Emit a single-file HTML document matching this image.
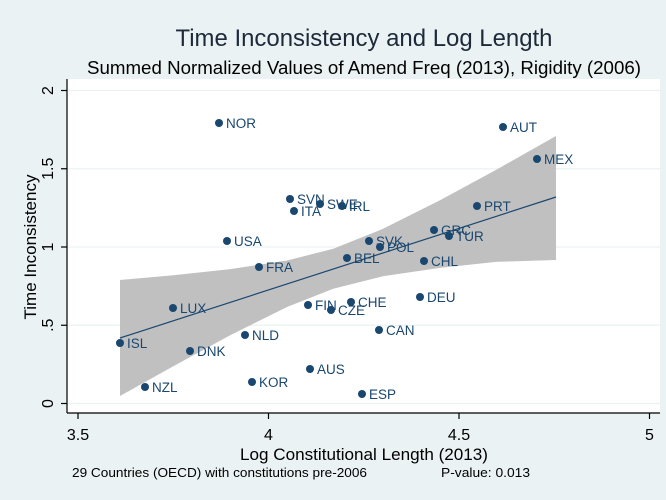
<!DOCTYPE html>
<html><head><meta charset="utf-8"><style>
html,body{margin:0;padding:0;background:#eaf2f3;}
svg{display:block;font-family:"Liberation Sans",sans-serif;}
</style></head><body>
<svg width="666" height="500" viewBox="0 0 666 500" xmlns="http://www.w3.org/2000/svg">
<rect x="0" y="0" width="666" height="500" fill="#eaf2f3"/>
<rect x="67" y="79" width="593" height="334" fill="#ffffff"/>
<g stroke="#eaf2f3" stroke-width="1.2">
<line x1="67" y1="90.5" x2="660" y2="90.5"/>
<line x1="67" y1="168.75" x2="660" y2="168.75"/>
<line x1="67" y1="247" x2="660" y2="247"/>
<line x1="67" y1="325.25" x2="660" y2="325.25"/>
<line x1="67" y1="403.5" x2="660" y2="403.5"/>
</g>
<polygon fill="#c0c0c0" points="120,280 173.3,275.2 230.4,269.1 287.6,260.4 333.3,248.7 382.8,228.9 440,200.3 497.2,169.2 556,136 556,260 497.2,261.8 440,267.9 382.8,276.3 333.3,288.7 287.6,306.8 230.4,335.1 173.3,366.2 120,396"/>
<line x1="120" y1="338" x2="556" y2="197" stroke="#1a476f" stroke-width="1.2"/>
<g stroke="#000" stroke-width="1.2">
<line x1="67" y1="79" x2="67" y2="413"/>
<line x1="67" y1="413" x2="660" y2="413"/>
<line x1="61" y1="90.5" x2="67" y2="90.5"/>
<line x1="61" y1="168.75" x2="67" y2="168.75"/>
<line x1="61" y1="247" x2="67" y2="247"/>
<line x1="61" y1="325.25" x2="67" y2="325.25"/>
<line x1="61" y1="403.5" x2="67" y2="403.5"/>
<line x1="78" y1="413" x2="78" y2="419"/>
<line x1="268.5" y1="413" x2="268.5" y2="419"/>
<line x1="459" y1="413" x2="459" y2="419"/>
<line x1="649.5" y1="413" x2="649.5" y2="419"/>
</g>
<g font-size="16" fill="#000" text-anchor="middle">
<text transform="translate(53,90.5) rotate(-90)">2</text>
<text transform="translate(53,168.75) rotate(-90)">1.5</text>
<text transform="translate(53,247) rotate(-90)">1</text>
<text transform="translate(53,325.25) rotate(-90)">.5</text>
<text transform="translate(53,403.5) rotate(-90)">0</text>
<text x="78" y="440">3.5</text>
<text x="268.5" y="440">4</text>
<text x="459" y="440">4.5</text>
<text x="649.5" y="440">5</text>
<text transform="translate(36,247) rotate(-90)" font-size="16.5" textLength="145" lengthAdjust="spacingAndGlyphs">Time Inconsistency</text>
<text x="364" y="460" font-size="17" textLength="248" lengthAdjust="spacingAndGlyphs">Log Constitutional Length (2013)</text>
<text x="364" y="46" font-size="24" fill="#1e2a3a" textLength="377" lengthAdjust="spacingAndGlyphs">Time Inconsistency and Log Length</text>
<text x="364" y="74" font-size="18" textLength="554" lengthAdjust="spacingAndGlyphs">Summed Normalized Values of Amend Freq (2013), Rigidity (2006)</text>
</g>
<text x="72" y="477" font-size="13" textLength="295" lengthAdjust="spacingAndGlyphs">29 Countries (OECD) with constitutions pre-2006</text>
<text x="441" y="477" font-size="13" textLength="89" lengthAdjust="spacingAndGlyphs">P-value: 0.013</text>
<g fill="#1a476f" font-size="13.5">
<circle cx="219" cy="123" r="4"/><text x="226" y="128">NOR</text>
<circle cx="503" cy="127" r="4"/><text x="510" y="132">AUT</text>
<circle cx="537" cy="159" r="4"/><text x="544" y="164">MEX</text>
<circle cx="290" cy="199" r="4"/><text x="297" y="204">SVN</text>
<circle cx="320" cy="204" r="4"/><text x="327" y="209">SWE</text>
<circle cx="342" cy="206" r="4"/><text x="349" y="211">IRL</text>
<circle cx="294" cy="211" r="4"/><text x="301" y="216">ITA</text>
<circle cx="477" cy="206" r="4"/><text x="484" y="211">PRT</text>
<circle cx="434" cy="230" r="4"/><text x="441" y="235">GRC</text>
<circle cx="449" cy="236" r="4"/><text x="456" y="241">TUR</text>
<circle cx="227" cy="241" r="4"/><text x="234" y="246">USA</text>
<circle cx="369" cy="241" r="4"/><text x="376" y="246">SVK</text>
<circle cx="380" cy="247" r="4"/><text x="387" y="252">POL</text>
<circle cx="347" cy="258" r="4"/><text x="354" y="263">BEL</text>
<circle cx="424" cy="261" r="4"/><text x="431" y="266">CHL</text>
<circle cx="259" cy="267" r="4"/><text x="266" y="272">FRA</text>
<circle cx="420" cy="297" r="4"/><text x="427" y="302">DEU</text>
<circle cx="351" cy="302" r="4"/><text x="358" y="307">CHE</text>
<circle cx="308" cy="305" r="4"/><text x="315" y="310">FIN</text>
<circle cx="173" cy="308" r="4"/><text x="180" y="313">LUX</text>
<circle cx="331" cy="310" r="4"/><text x="338" y="315">CZE</text>
<circle cx="379" cy="330" r="4"/><text x="386" y="335">CAN</text>
<circle cx="245" cy="335" r="4"/><text x="252" y="340">NLD</text>
<circle cx="120" cy="343" r="4"/><text x="127" y="348">ISL</text>
<circle cx="190" cy="351" r="4"/><text x="197" y="356">DNK</text>
<circle cx="310" cy="369" r="4"/><text x="317" y="374">AUS</text>
<circle cx="252" cy="382" r="4"/><text x="259" y="387">KOR</text>
<circle cx="145" cy="387" r="4"/><text x="152" y="392">NZL</text>
<circle cx="362" cy="394" r="4"/><text x="369" y="399">ESP</text>
</g>
</svg>
</body></html>
